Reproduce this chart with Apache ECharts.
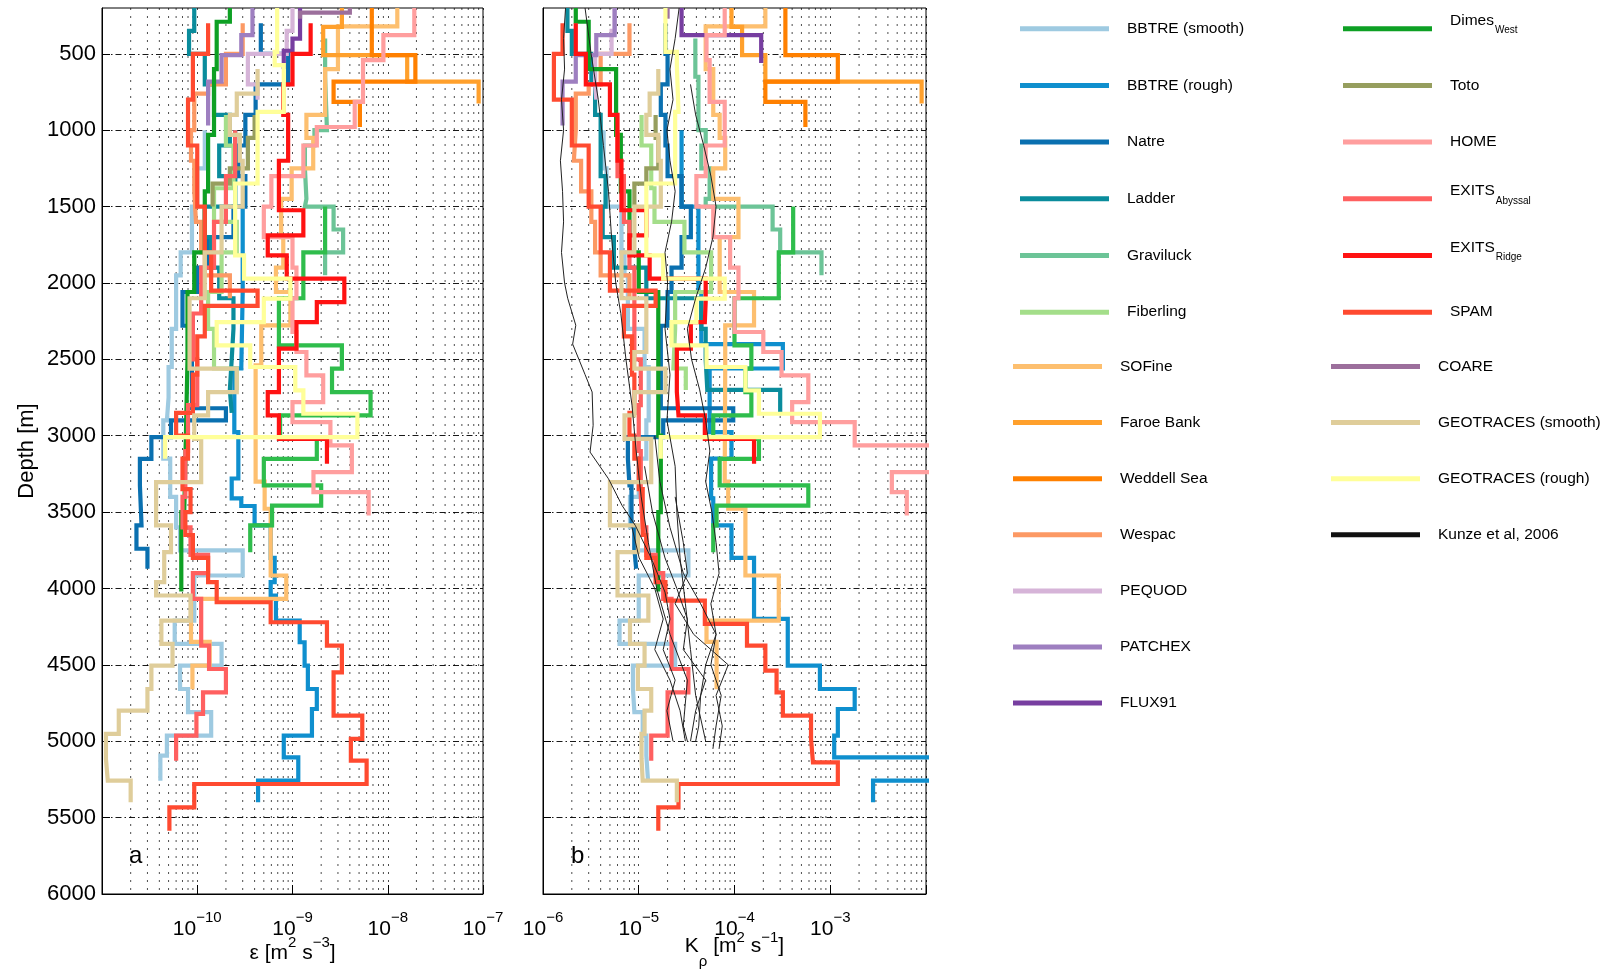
<!DOCTYPE html>
<html><head><meta charset="utf-8">
<script src="https://cdn.jsdelivr.net/npm/echarts@6/dist/echarts.min.js"></script>
<style>html,body{margin:0;padding:0;background:#fff}#c{width:1605px;height:973px}</style>
</head><body><div id="c"></div>
<script>
// ---------------- tick labels ----------------
const Y_TICKS = [500,1000,1500,2000,2500,3000,3500,4000,4500,5000,5500,6000];
const EPS_DECADES = [-11,-10,-9,-8,-7];
const KRHO_DECADES = [-6,-5,-4,-3,-2];

// ---------------- profiles: depth edges (m), epsilon (panel a), K_rho (panel b) ----------------
// BBTRE (smooth)
const BBTRE_SMOOTH_D = [1000,1250,1500,1800,1950,2300,2550,2750,2900,3150,3400,3600,3750,3915,4210,4363,4505,4658,4810,4963,5094,5258];
const BBTRE_SMOOTH_EPS = [1.2e-10,1.0e-10,8.8e-11,6.7e-11,6.0e-11,5.4e-11,5.0e-11,4.8e-11,4.4e-11,5.2e-11,6.0e-11,6.6e-11,3.0e-10,9.3e-11,5.8e-11,1.8e-10,6.6e-11,8.0e-11,1.4e-10,4.8e-11,4.1e-11];
const BBTRE_SMOOTH_K = [4.3e-6,4.6e-6,6.6e-6,7.1e-6,7.7e-6,1.15e-5,1.27e-5,1.27e-5,1.2e-5,1.0e-5,8.1e-6,9.0e-6,3.3e-5,1.0e-5,6.3e-6,2.4e-5,8.7e-6,9.0e-6,1.1e-5,1.2e-5,1.25e-5];
// BBTRE (rough)
const BBTRE_ROUGH_DA = [1000,1500,2059,2560,2976,3280,3410,3460,3587,3800,3959,4046,4210,4352,4505,4658,4789,4963,5105,5258,5400];
const BBTRE_ROUGH_EPS = [2.5e-10,3.0e-10,2.9e-10,2.45e-10,2.7e-10,2.3e-10,2.9e-10,4.0e-10,5.9e-10,6.5e-10,5.9e-10,6.7e-10,1.19e-9,1.34e-9,1.45e-9,1.8e-9,1.6e-9,8.1e-10,1.15e-9,4.35e-10];
const BBTRE_ROUGH_DB = [1000,1500,2059,2400,2560,2976,3150,3410,3587,3800,3959,4199,4505,4658,4789,4963,5105,5258,5400];
const BBTRE_ROUGH_K = [2.8e-5,4.2e-5,4.5e-5,3.2e-4,5.5e-5,9.3e-5,5.7e-5,6.0e-5,9.3e-5,1.6e-4,1.6e-4,3.6e-4,7.8e-4,1.8e-3,1.2e-3,1.1e-3,1.5e-2,2.8e-3];
// Natre
const NATRE_D = [300,500,700,900,1100,1300,1500,1700,1900,2059,2280,2820,2900,3009,3151,3325,3587,3740,3871];
const NATRE_EPS = [4.65e-10,9.0e-10,4.1e-10,3.2e-10,2.7e-10,3.2e-10,2.4e-10,1.3e-10,1.0e-10,7.0e-11,8.8e-11,2.0e-10,5.3e-11,3.3e-11,2.5e-11,2.6e-11,2.3e-11,3.0e-11];
const NATRE_K = [1.9e-5,2.0e-5,1.7e-5,1.9e-5,2.0e-5,2.8e-5,3.5e-5,2.8e-5,2.2e-5,2.0e-5,1.7e-5,9.7e-5,1.8e-5,7.7e-6,8.0e-6,8.4e-6,9.0e-6,9.4e-6];
// Ladder
const LADDER_D = [200,350,500,700,900,1100,1300,1500,1700,1900,2100,2300,2500,2700,2850];
const LADDER_EPS = [9.3e-11,8.2e-11,1.2e-10,1.5e-10,2.2e-10,1.7e-10,2.5e-10,1.2e-10,1.4e-10,1.7e-10,2.4e-10,2.3e-10,2.2e-10,2.3e-10];
const LADDER_K = [1.8e-6,2.0e-6,3.2e-6,3.5e-6,4.0e-6,4.0e-6,4.5e-6,4.2e-6,5.5e-6,1.2e-5,4.5e-5,5.0e-5,5.2e-5,3.0e-4];
// Graviluck
const GRAVILUCK_D = [400,650,1000,1100,1250,1450,1500,1650,1800,1950];
const GRAVILUCK_EPS = [2.2e-9,2.3e-9,1.7e-9,1.35e-9,1.4e-9,1.35e-9,2.7e-9,3.4e-9,2.2e-9];
const GRAVILUCK_K = [3.9e-5,4.2e-5,5.0e-5,4.5e-5,5.5e-5,5.0e-5,2.5e-4,3.0e-4,8.1e-4];
// Fiberling
const FIBERLING_D = [900,1100,1380,1600,1800,2059,2300,2560,2700];
const FIBERLING_EPS = [2.0e-10,2.4e-10,1.5e-10,2.6e-10,1.8e-10,1.3e-10,1.5e-10,2.6e-10];
const FIBERLING_K = [1.07e-5,1.35e-5,1.46e-5,3.0e-5,5.7e-5,2.4e-5,2.3e-5,3.1e-5];
// SOFine
const SOFINE_DA = [200,320,600,900,1050,1250,1450,1700,1900,2059,2277,2540,3300,3478,3915,4068,4350,4505,4660];
const SOFINE_EPS = [1.26e-8,3.0e-9,2.2e-9,1.4e-9,1.65e-9,9.8e-10,7.6e-10,8.0e-10,6.7e-10,9.5e-10,4.7e-10,4.1e-10,5.1e-10,5.9e-10,8.6e-10,8.6e-11,1.35e-10,8.9e-11];
const SOFINE_DB = [200,320,600,900,1050,1250,1450,1700,1900,2059,2277,2540,3300,3478,3915,4210,4350,4505,4660];
const SOFINE_K = [2.1e-4,5.0e-5,6.0e-5,7.0e-5,8.0e-5,6.0e-5,1.1e-4,7.0e-5,7.0e-5,1.6e-4,8.0e-5,7.9e-5,8.6e-5,1.3e-4,2.9e-4,5.1e-5,6.5e-5,6.5e-5];
// Faroe Bank
const FAROE_D = [200,323,509,682,825];
const FAROE_EPS = [3.3e-9,2.1e-9,1.6e-8,9.0e-8];
const FAROE_K = [9.3e-5,1.2e-4,2.1e-4,9.0e-3];
// Weddell Sea
const WEDDELL_D = [200,509,682,815,979];
const WEDDELL_EPS = [6.8e-9,1.95e-8,2.7e-9,5.1e-9];
const WEDDELL_K = [3.4e-4,1.2e-3,2.1e-4,5.5e-4];
// Wespac
const WESPAC_D = [300,500,700,760,1000,1200,1400,1600,1800,1950,2100];
const WESPAC_EPS = [3.0e-10,2.0e-10,1.3e-10,9.3e-11,8.6e-11,9.3e-11,9.7e-11,1.1e-10,1.2e-10,2.2e-10];
const WESPAC_K = [8.0e-6,4.0e-6,3.0e-6,2.2e-6,2.1e-6,2.5e-6,3.2e-6,3.5e-6,4.0e-6,8.0e-6];
// PEQUOD
const PEQUOD_D = [200,350,500,700,800];
const PEQUOD_EPS = [1.0e-9,8.7e-10,3.4e-10,4.3e-10];
const PEQUOD_K = [5.6e-6,5.2e-6,3.5e-6,3.6e-6];
// PATCHEX
const PATCHEX_D = [200,378,509,682,970];
const PATCHEX_EPS = [3.8e-10,2.9e-10,1.8e-10,1.3e-10];
const PATCHEX_K = [5.6e-6,3.6e-6,2.2e-6,1.6e-6];
// FLUX91
const FLUX91_DA = [200,400,480,600];
const FLUX91_EPS = [1.2e-9,1.0e-9,8.1e-10];
const FLUX91_DB = [200,378,560];
const FLUX91_K = [2.8e-5,1.9e-4];
// Dimes West (two profiles)
const DIMES_D = [200,290,600,1030,1400,1800,2059,2500,3000,3500,4020];
const DIMES_EPS = [2.2e-10,1.6e-10,1.5e-10,1.3e-10,1.2e-10,9.3e-11,7.9e-11,7.6e-11,7.3e-11,6.8e-11];
const DIMES_K = [2.2e-6,3.0e-6,5.8e-6,6.5e-6,8.0e-6,1.0e-5,1.6e-5,1.6e-5,1.7e-5,1.6e-5];
const DIMES2_D = [1500,1800,2100,2408,2561,2714,2867,3020,3151,3325,3457,3587,3762];
const DIMES2_EPS = [2.2e-9,1.3e-9,7.2e-10,3.3e-9,2.6e-9,6.6e-9,7.4e-10,1.8e-9,5.0e-10,2.0e-9,6.1e-10,3.6e-10];
const DIMES2_K = [4.1e-4,2.9e-4,1.0e-4,1.5e-4,1.3e-4,1.5e-4,6.0e-5,1.8e-4,7.0e-5,5.9e-4,6.5e-5,6.0e-5];
// Toto
const TOTO_D = [900,1050,1250,1350,1500];
const TOTO_EPS = [4.0e-10,3.4e-10,2.2e-10,1.45e-10];
const TOTO_K = [1.5e-5,1.6e-5,1.2e-5,9.0e-6];
// HOME
const HOME_D = [200,378,541,815,979,1100,1300,1500,1700,1900,2100,2321,2452,2605,2780,2911,3063,3238,3369,3522];
const HOME_EPS = [1.9e-8,9.0e-9,5.5e-9,4.5e-9,1.8e-9,1.3e-9,6.0e-10,5.0e-10,1.0e-9,1.1e-9,1.0e-9,1.1e-9,1.4e-9,2.1e-9,1.0e-9,2.5e-9,4.2e-9,1.66e-9,6.3e-9];
const HOME_K = [7.9e-5,5.1e-5,5.5e-5,7.9e-5,7.9e-5,5.0e-5,4.0e-5,6.0e-5,9.0e-5,1.1e-4,1.0e-4,2.0e-4,3.1e-4,5.9e-4,4.0e-4,1.8e-3,1.5e-2,4.4e-3,6.3e-3];
// EXITS Abyssal
const EXITS_ABYSSAL_D = [1000,1300,1600,1900,2200,2500,2800,3100,3400,3600,3780,3900,4068,4374,4527,4680,4821,4963,5127];
const EXITS_ABYSSAL_EPS = [2.5e-10,2.0e-10,1.5e-10,1.1e-10,9.0e-11,1.0e-10,8.0e-11,7.5e-11,7.0e-11,8.5e-11,1.3e-10,9.0e-11,1.1e-10,1.33e-10,2.0e-10,1.15e-10,9.8e-11,6.0e-11];
const EXITS_ABYSSAL_K = [6.0e-6,7.0e-6,8.0e-6,9.0e-6,9.0e-6,1.05e-5,1.0e-5,1.05e-5,1.1e-5,1.2e-5,1.5e-5,1.8e-5,2.2e-5,2.2e-5,3.3e-5,2.0e-5,2.0e-5,1.35e-5];
// EXITS Ridge
const EXITS_RIDGE_D = [300,500,700,900,1200,1524,1688,1819,1972,2125,2256,2430,2714,2867,3020,3184];
const EXITS_RIDGE_EPS = [1.55e-9,1.0e-9,8.0e-10,9.0e-10,7.2e-10,1.3e-9,5.5e-10,8.7e-10,3.5e-9,1.8e-9,1.1e-9,7.2e-10,5.5e-10,7.2e-10,2.3e-9];
const EXITS_RIDGE_K = [2.2e-6,2.8e-6,5.0e-6,6.0e-6,6.6e-6,1.2e-5,8.0e-6,1.3e-5,5.0e-5,4.9e-5,3.5e-5,2.5e-5,2.6e-5,4.9e-5,1.6e-4];
// SPAM
const SPAM_DA = [300,500,800,1100,1500,1800,2050,2150,2350,2600,2850,3000,3150,3350,3500,3650,3800,3959,4090,4221,4374,4549,4832,4985,5127,5280,5433,5586];
const SPAM_EPS = [1.3e-10,9.0e-11,8.0e-11,1.0e-10,1.2e-10,1.4e-10,4.3e-10,1.2e-10,1.0e-10,9.0e-11,6.0e-11,8.0e-11,7.0e-11,8.5e-11,7.5e-11,9.0e-11,1.3e-10,1.6e-10,5.9e-10,2.3e-9,3.3e-9,2.7e-9,5.4e-9,4.1e-9,6.0e-9,9.3e-11,5.1e-11];
const SPAM_DB = [300,500,800,1100,1500,1800,2050,2150,2350,2600,2850,3000,3150,3350,3500,3650,3800,3959,4079,4232,4374,4538,4680,4832,4985,5138,5280,5433,5586];
const SPAM_K = [1.6e-6,1.3e-6,2.0e-6,3.0e-6,4.0e-6,5.0e-6,1.5e-5,7.0e-6,8.5e-6,9.0e-6,8.0e-6,9.0e-6,1.0e-5,1.1e-5,1.1e-5,1.2e-5,1.5e-5,1.9e-5,4.9e-5,1.35e-4,2.1e-4,2.75e-4,3.2e-4,6.3e-4,6.6e-4,1.2e-3,2.6e-5,1.6e-5];
// COARE
const COARE_DA = [200,230,270];
const COARE_EPS = [4.0e-9,1.2e-9];
const COARE_DB = [200,270];
const COARE_K = [2.0e-5];
// GEOTRACES (smooth)
const GEO_SMOOTH_D = [600,760,900,1030,1200,1500,1800,2100,2452,2561,2714,2867,3020,3304,3587,3762,3959,4046,4210,4363,4505,4658,4800,4952,5116,5258,5400];
const GEO_SMOOTH_EPS = [4.3e-10,2.6e-10,2.2e-10,2.8e-10,3.0e-10,1.8e-10,1.2e-10,8.3e-11,8.3e-11,2.6e-10,1.3e-10,9.3e-11,1.1e-10,3.7e-11,5.3e-11,4.5e-11,3.7e-11,8.5e-11,4.2e-11,5.5e-11,3.3e-11,3.0e-11,1.5e-11,1.1e-11,1.15e-11,2.0e-11];
const GEO_SMOOTH_K = [1.6e-5,1.3e-5,1.2e-5,1.6e-5,1.7e-5,9.0e-6,6.6e-6,1.2e-5,9.0e-6,1.9e-5,9.0e-6,7.1e-6,1.35e-5,5.0e-6,9.8e-6,6.0e-6,6.0e-6,1.26e-5,8.1e-6,1.15e-5,9.8e-6,1.35e-5,1.15e-5,1.07e-5,1.1e-5,2.5e-5];
// GEOTRACES (rough)
const GEO_ROUGH_D = [200,487,574,880,1349,1819,1972,2103,2256,2408,2550,2703,2856,3009,3151];
const GEO_ROUGH_EPS = [6.9e-10,6.5e-10,8.1e-10,4.3e-10,2.5e-10,3.1e-10,9.5e-10,5.0e-10,1.6e-10,3.6e-10,1.07e-9,1.3e-9,4.8e-9,4.6e-11];
const GEO_ROUGH_K = [1.9e-5,2.5e-5,2.6e-5,2.4e-5,1.2e-5,1.8e-5,7.9e-5,4.0e-5,2.2e-5,5.1e-5,1.3e-4,1.8e-4,7.8e-4,1.7e-5];
// Kunze et al. 2006 (panel b only): depth / K_rho
const KUNZE1_D = [200,400,600,800,1000,1200,1400,1600,1800,2000,2100,2277,2400,2500,2600,2714,2932,3107,3282,3457,3587,3806,4024,4200,4400,4600,4800,5000];
const KUNZE1_K = [1.72e-6,1.64e-6,1.68e-6,1.56e-6,1.64e-6,1.52e-6,1.6e-6,1.64e-6,1.56e-6,1.68e-6,1.81e-6,2.2e-6,2.04e-6,2.37e-6,2.75e-6,3.26e-6,3.34e-6,3.1e-6,4.83e-6,6.7e-6,9.2e-6,1.36e-5,1.88e-5,2.12e-5,1.8e-5,2.4e-5,1.97e-5,2.28e-5];
const KUNZE2_D = [200,500,800,1100,1400,1700,2000,2200,2500,2800,3100,3400,3700,4000,4300,4600,4900,5000];
const KUNZE2_K = [2.75e-6,3.18e-6,3.78e-6,4.28e-6,4.83e-6,5.2e-6,5.75e-6,6.5e-6,7.35e-6,8.5e-6,9.4e-6,1.06e-5,1.26e-5,1.54e-5,2.12e-5,3.22e-5,2.92e-5,3.22e-5];
const KUNZE3_D = [200,400,600,800,1000,1200,1400,1600,1800,2000,2300,2600,2900,3200,3500,3800,4100,4400,4700,5000];
const KUNZE3_K = [2.64e-5,2.4e-5,2.12e-5,2.28e-5,1.97e-5,2.12e-5,2.4e-5,2.2e-5,1.88e-5,2.0e-5,1.88e-5,2.12e-5,1.97e-5,2.4e-5,2.5e-5,2.7e-5,3.07e-5,3.47e-5,3.93e-5,5.0e-5];
const KUNZE4_D = [700,900,1100,1300,1500,1700,1900,2100,2300,2500,2700,2900,3100,3300,3500,3700,3900,4100,4300,4500,4700,4900,5000];
const KUNZE4_K = [3.47e-5,3.93e-5,4.77e-5,5.67e-5,6.42e-5,5.95e-5,5.0e-5,3.93e-5,3.22e-5,3.56e-5,4.33e-5,5.0e-5,5.53e-5,5.0e-5,5.81e-5,6.42e-5,6.9e-5,5.67e-5,6.42e-5,5.0e-5,4.43e-5,4.23e-5,3.93e-5];
const KUNZE5_D = [3000,3300,3600,3900,4100,4300,4500,4700,4900,5050];
const KUNZE5_K = [1.47e-5,1.66e-5,2.12e-5,2.92e-5,4.43e-5,6.42e-5,5.67e-5,7.26e-5,6.42e-5,5.95e-5];
const KUNZE6_D = [3200,3500,3800,4000,4200,4400,4600,4800,5000];
const KUNZE6_K = [1.15e-5,1.39e-5,1.88e-5,2.5e-5,3.22e-5,2.92e-5,5.0e-5,3.93e-5,3.47e-5];
const KUNZE7_D = [3400,3700,3900,4100,4300,4500,4700,4900,5050];
const KUNZE7_K = [2.4e-5,2.92e-5,3.22e-5,2.4e-5,3.74e-5,8.6e-5,6.42e-5,7.45e-5,6.9e-5];
const KUNZE8_D = [3600,3800,4000,4200,4400,4600,4800,5000];
const KUNZE8_K = [8.5e-6,1.01e-5,1.47e-5,1.8e-5,1.47e-5,2.12e-5,2.7e-5,3.07e-5];

// ---------------- legend groups ----------------
const LEGEND_C1A = ['BBTRE (smooth)','BBTRE (rough)','Natre','Ladder','Graviluck','Fiberling'];
const LEGEND_C1B = ['SOFine','Faroe Bank','Weddell Sea','Wespac','PEQUOD','PATCHEX','FLUX91'];
const LEGEND_C2A = ['Dimes_West','Toto','HOME','EXITS_Abyssal','EXITS_Ridge','SPAM'];
const LEGEND_C2B = ['COARE','GEOTRACES (smooth)','GEOTRACES (rough)','Kunze et al, 2006'];

// ---------------- styles / assembly ----------------
const PROFILES = [
  {name:'BBTRE (smooth)', color:'#9ecae1', dA:BBTRE_SMOOTH_D, a:BBTRE_SMOOTH_EPS, dB:BBTRE_SMOOTH_D, b:BBTRE_SMOOTH_K},
  {name:'BBTRE (rough)', color:'#0f8fce', dA:BBTRE_ROUGH_DA, a:BBTRE_ROUGH_EPS, dB:BBTRE_ROUGH_DB, b:BBTRE_ROUGH_K},
  {name:'Natre', color:'#0a70b0', dA:NATRE_D, a:NATRE_EPS, dB:NATRE_D, b:NATRE_K},
  {name:'Ladder', color:'#0a8c9c', dA:LADDER_D, a:LADDER_EPS, dB:LADDER_D, b:LADDER_K},
  {name:'Graviluck', color:'#6cc497', dA:GRAVILUCK_D, a:GRAVILUCK_EPS, dB:GRAVILUCK_D, b:GRAVILUCK_K},
  {name:'Fiberling', color:'#a4de8a', dA:FIBERLING_D, a:FIBERLING_EPS, dB:FIBERLING_D, b:FIBERLING_K},
  {name:'SOFine', color:'#fdbf6f', dA:SOFINE_DA, a:SOFINE_EPS, dB:SOFINE_DB, b:SOFINE_K},
  {name:'Faroe Bank', color:'#ffa02c', dA:FAROE_D, a:FAROE_EPS, dB:FAROE_D, b:FAROE_K},
  {name:'Weddell Sea', color:'#ff8000', dA:WEDDELL_D, a:WEDDELL_EPS, dB:WEDDELL_D, b:WEDDELL_K},
  {name:'Wespac', color:'#fc9964', dA:WESPAC_D, a:WESPAC_EPS, dB:WESPAC_D, b:WESPAC_K},
  {name:'PEQUOD', color:'#d6b4d8', dA:PEQUOD_D, a:PEQUOD_EPS, dB:PEQUOD_D, b:PEQUOD_K},
  {name:'PATCHEX', color:'#9e7fc0', dA:PATCHEX_D, a:PATCHEX_EPS, dB:PATCHEX_D, b:PATCHEX_K},
  {name:'FLUX91', color:'#773ea0', dA:FLUX91_DA, a:FLUX91_EPS, dB:FLUX91_DB, b:FLUX91_K},
  {name:'Dimes_West', color:'#0ea024', dA:DIMES_D, a:DIMES_EPS, dB:DIMES_D, b:DIMES_K},
  {name:'Dimes_West ', color:'#2fbd4c', dA:DIMES2_D, a:DIMES2_EPS, dB:DIMES2_D, b:DIMES2_K},
  {name:'Toto', color:'#969e5e', dA:TOTO_D, a:TOTO_EPS, dB:TOTO_D, b:TOTO_K},
  {name:'HOME', color:'#ff9e9e', dA:HOME_D, a:HOME_EPS, dB:HOME_D, b:HOME_K},
  {name:'EXITS_Abyssal', color:'#ff6060', dA:EXITS_ABYSSAL_D, a:EXITS_ABYSSAL_EPS, dB:EXITS_ABYSSAL_D, b:EXITS_ABYSSAL_K},
  {name:'EXITS_Ridge', color:'#ff1212', dA:EXITS_RIDGE_D, a:EXITS_RIDGE_EPS, dB:EXITS_RIDGE_D, b:EXITS_RIDGE_K},
  {name:'SPAM', color:'#ff4a30', dA:SPAM_DA, a:SPAM_EPS, dB:SPAM_DB, b:SPAM_K},
  {name:'COARE', color:'#9c6f9c', dA:COARE_DA, a:COARE_EPS, dB:COARE_DB, b:COARE_K},
  {name:'GEOTRACES (smooth)', color:'#dfcd9a', dA:GEO_SMOOTH_D, a:GEO_SMOOTH_EPS, dB:GEO_SMOOTH_D, b:GEO_SMOOTH_K},
  {name:'GEOTRACES (rough)', color:'#ffff99', dA:GEO_ROUGH_D, a:GEO_ROUGH_EPS, dB:GEO_ROUGH_D, b:GEO_ROUGH_K}
];
const KUNZE = [[KUNZE1_D,KUNZE1_K],[KUNZE2_D,KUNZE2_K],[KUNZE3_D,KUNZE3_K],[KUNZE4_D,KUNZE4_K],
               [KUNZE5_D,KUNZE5_K],[KUNZE6_D,KUNZE6_K],[KUNZE7_D,KUNZE7_K],[KUNZE8_D,KUNZE8_K]];

const FONT = '"Liberation Sans", Arial, Helvetica, sans-serif';
const DEPTH_MIN = 200, DEPTH_MAX = 6000;

function steps(D, V) {
  const pts = [];
  for (let i = 0; i < V.length; i++) { pts.push([V[i], D[i]]); pts.push([V[i], D[i + 1]]); }
  return pts;
}
function pairs(D, V) { return D.map((d, i) => [V[i], d]); }
function minorValues(decades) {
  const out = [];
  for (let i = 0; i < decades.length - 1; i++) for (let k = 2; k <= 9; k++) out.push(k * Math.pow(10, decades[i]));
  return out;
}
const GRID_STYLE = {type:[2,6], color:'#000', width:1, opacity:0.7};

const series = [];
// minor (2..9) vertical grid lines of the log axes, positioned through the axes
[0, 1].forEach(g => {
  minorValues(g === 0 ? EPS_DECADES : KRHO_DECADES).forEach(v => {
    series.push({type:'line', xAxisIndex:g, yAxisIndex:g, data:[[v, DEPTH_MIN], [v, DEPTH_MAX]],
      symbol:'none', showSymbol:false, silent:true, animation:false, z:1, emphasis:{disabled:true},
      lineStyle:GRID_STYLE, itemStyle:{color:'#000'}});
  });
});
PROFILES.forEach(p => {
  [0, 1].forEach(g => {
    series.push({
      type:'line', name:p.name, xAxisIndex:g, yAxisIndex:g,
      data: g === 0 ? steps(p.dA, p.a) : steps(p.dB, p.b),
      symbol:'none', showSymbol:false, silent:true, animation:false, z:3,
      emphasis:{disabled:true},
      itemStyle:{color:p.color},
      lineStyle:{color:p.color, width:4.2, join:'miter', cap:'butt'}
    });
  });
});
KUNZE.forEach(([D, K]) => {
  series.push({type:'line', name:'Kunze et al, 2006', xAxisIndex:1, yAxisIndex:1, data:pairs(D, K),
    symbol:'none', showSymbol:false, silent:true, animation:false, z:4, emphasis:{disabled:true},
    itemStyle:{color:'#111'}, lineStyle:{color:'#222', width:1}});
});

function powLabel(hideExp) {
  return function (v) {
    const e = Math.round(Math.log10(v));
    if (e === hideExp) return '';
    return '{b|10}{s|' + (e < 0 ? '\u2212' : '') + Math.abs(e) + '}';
  };
}
const X_LABEL_RICH = {
  b:{fontSize:21, lineHeight:22, padding:[12,0,0,0], verticalAlign:'middle', fontFamily:FONT, color:'#000'},
  s:{fontSize:15, lineHeight:16, padding:[3.5,0,14.5,0], verticalAlign:'middle', fontFamily:FONT, color:'#000'}
};
function xAxisCfg(g, min, max, hideExp, name, nameGap, nameRich) {
  return {
    type:'log', logBase:10, gridIndex:g, min:min, max:max,
    axisLine:{show:true, lineStyle:{color:'#000', width:1}},
    axisTick:{show:true, inside:true, length:9, lineStyle:{color:'#000'}},
    axisLabel:{formatter:powLabel(hideExp), rich:X_LABEL_RICH, margin:18, hideOverlap:false, showMinLabel:true, showMaxLabel:true},
    splitLine:{show:true, lineStyle:GRID_STYLE},
    name:name, nameLocation:'middle', nameGap:nameGap, nameMoveOverlap:false,
    nameTextStyle:{rich:nameRich, fontFamily:FONT, color:'#000'}
  };
}
function yAxisCfg(g, showLabel) {
  return {
    type:'value', gridIndex:g, inverse:true, min:DEPTH_MIN, max:DEPTH_MAX,
    axisLine:{show:true, lineStyle:{color:'#000', width:1}},
    axisTick:{show:true, inside:true, length:8, customValues:Y_TICKS, lineStyle:{color:'#000'}},
    axisLabel:{show:true, customValues:Y_TICKS, fontSize:22, fontFamily:FONT, color:'#000', margin:6,
      formatter: showLabel ? (v => String(v)) : (() => '')},
    splitLine:{show:true, lineStyle:{type:[6,3,1.5,3], color:'#000', width:1, opacity:0.9}},
    name: showLabel ? 'Depth [m]' : '', nameLocation:'middle', nameGap:64, nameRotate:90,
    nameTextStyle:{fontSize:22, fontFamily:FONT, color:'#000'}
  };
}
const NAME_A_RICH = {
  n:{fontSize:21, lineHeight:22, padding:[11,0,0,0], verticalAlign:'middle', fontFamily:FONT, color:'#000'},
  sp:{fontSize:15, lineHeight:16, padding:[3,0,14,0], verticalAlign:'middle', fontFamily:FONT, color:'#000'}
};
const NAME_B_RICH = {
  n:{fontSize:21, lineHeight:22, padding:[21,0,13,0], verticalAlign:'middle', fontFamily:FONT, color:'#000'},
  sp:{fontSize:15, lineHeight:16, padding:[16,0,24,0], verticalAlign:'middle', fontFamily:FONT, color:'#000'},
  sb:{fontSize:15, lineHeight:16, padding:[40,0,0,0], verticalAlign:'middle', fontFamily:FONT, color:'#000'}
};

function legendFmt(name) {
  const i = name.indexOf('_');
  if (i < 0) return '{n|' + name + '}';
  return '{a|' + name.slice(0, i) + '}{s|' + name.slice(i + 1) + '}';
}
const LEGEND_RICH = {
  n:{fontSize:15.5, lineHeight:16, padding:[8,0,8,13], verticalAlign:'middle', fontFamily:FONT, color:'#000'},
  a:{fontSize:15.5, lineHeight:16, padding:[0,0,16,13], verticalAlign:'middle', fontFamily:FONT, color:'#000'},
  s:{fontSize:10, lineHeight:12, padding:[12,0,8,1], verticalAlign:'middle', fontFamily:FONT, color:'#000'}
};
function legendCfg(left, top, gap, data) {
  return {orient:'vertical', left:left, top:top, itemGap:gap, padding:0, icon:'rect',
    itemWidth:89, itemHeight:5, selectedMode:false, data:data, formatter:legendFmt,
    textStyle:{rich:LEGEND_RICH, fontFamily:FONT, color:'#000'}};
}

const option = {
  animation:false,
  backgroundColor:'#fff',
  grid:[
    {left:102, top:8, width:381, height:886, outerBoundsMode:'none', containLabel:false, show:true, borderColor:'#000', borderWidth:1, backgroundColor:'transparent'},
    {left:543, top:8, width:383, height:886, outerBoundsMode:'none', containLabel:false, show:true, borderColor:'#000', borderWidth:1, backgroundColor:'transparent'}
  ],
  xAxis:[
    xAxisCfg(0, 1e-11, 1e-7, -11, '{n|\u03b5 [m}{sp|2}{n| s}{sp|\u22123}{n|]}', 43, NAME_A_RICH),
    xAxisCfg(1, 1e-6, 1e-2, -2, '{n|K}{sb|\u03c1}{n| [m}{sp|2}{n| s}{sp|\u22121}{n|]}', 37, NAME_B_RICH)
  ],
  yAxis:[yAxisCfg(0, true), yAxisCfg(1, false)],
  legend:[
    legendCfg(1020, 12.7, 24.7, LEGEND_C1A),
    legendCfg(1013, 350.5, 24.1, LEGEND_C1B),
    legendCfg(1343, 12.7, 24.7, LEGEND_C2A),
    legendCfg(1331, 350.5, 24.1, LEGEND_C2B)
  ],
  graphic:[
    {type:'text', left:129, top:844, style:{text:'a', font:'24px ' + FONT, fill:'#000'}},
    {type:'text', left:571, top:844, style:{text:'b', font:'24px ' + FONT, fill:'#000'}}
  ],
  series:series
};
const chart = echarts.init(document.getElementById('c'), null, {renderer:'canvas', width:1605, height:973});
chart.setOption(option);
</script></body></html>
